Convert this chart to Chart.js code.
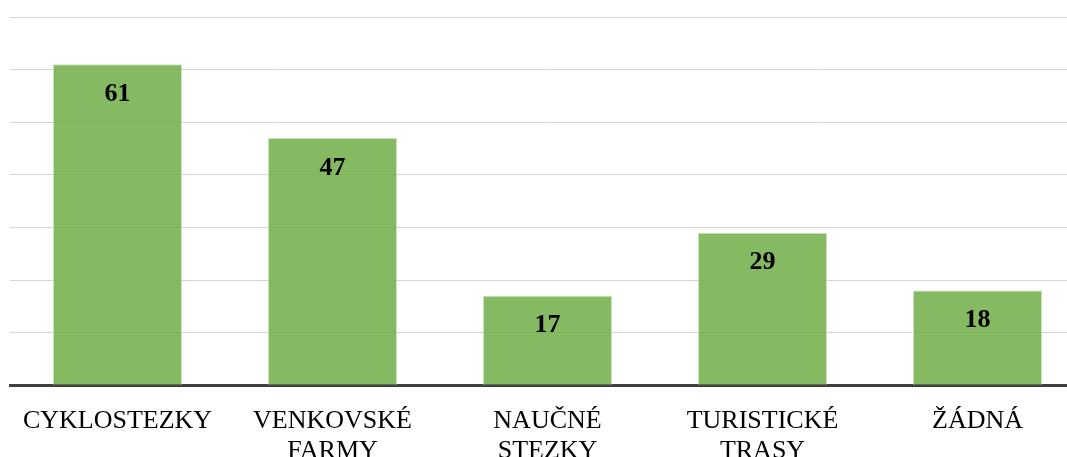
<!DOCTYPE html>
<html>
<head>
<meta charset="utf-8">
<script src="https://cdn.jsdelivr.net/npm/chart.js@4/dist/chart.umd.min.js"></script>
<style>
  html, body { margin: 0; padding: 0; background: #fff; overflow: hidden; }
  #wrap { width: 1085px; height: 487px; }
</style>
</head>
<body>
<div id="wrap"><canvas id="chart"></canvas></div>
<script>
const categories = [
  'CYKLOSTEZKY',
  ['VENKOVSKÉ', 'FARMY'],
  ['NAUČNÉ', 'STEZKY'],
  ['TURISTICKÉ', 'TRASY'],
  'ŽÁDNÁ'
];
const counts = [61, 47, 17, 29, 18];

const axisMax = 70;
const axisStep = 10;

// draws the value inside each bar, near its top
const barValues = {
  id: 'barValues',
  afterDatasetsDraw(chart) {
    const ctx = chart.ctx;
    const meta = chart.getDatasetMeta(0);
    ctx.save();
    ctx.font = 'bold 26px "Liberation Serif", "Times New Roman", serif';
    ctx.fillStyle = '#000';
    ctx.textAlign = 'center';
    ctx.textBaseline = 'middle';
    meta.data.forEach((bar, i) => {
      ctx.fillText(String(counts[i]), bar.x, bar.y + 30);
    });
    ctx.restore();
  }
};

new Chart(document.getElementById('chart'), {
  type: 'bar',
  data: {
    labels: categories,
    datasets: [{
      data: counts,
      backgroundColor: 'rgba(112, 173, 71, 0.85)',
      borderColor: 'rgba(197, 224, 180, 0.9)',
      borderWidth: 1,
      barPercentage: 0.6,
      categoryPercentage: 1
    }]
  },
  options: {
    responsive: true,
    maintainAspectRatio: false,
    animation: false,
    layout: { padding: { left: 10, right: 0, top: 17, bottom: 0 } },
    plugins: {
      legend: { display: false },
      tooltip: { enabled: false }
    },
    scales: {
      x: {
        grid: { display: false, drawTicks: false },
        border: { display: true, color: '#404040', width: 3 },
        ticks: {
          color: '#000',
          padding: 21,
          maxRotation: 0,
          autoSkip: false,
          font: { family: '"Liberation Serif", "Times New Roman", serif', size: 26, lineHeight: 1.15 }
        }
      },
      y: {
        min: 0,
        max: axisMax,
        grid: { color: '#d4d4d4', lineWidth: 1, drawTicks: false },
        border: { display: false },
        ticks: { display: false, stepSize: axisStep }
      }
    }
  },
  plugins: [barValues]
});
</script>
</body>
</html>
